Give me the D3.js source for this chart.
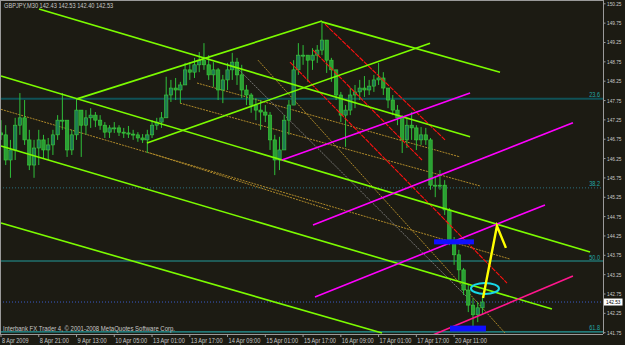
<!DOCTYPE html>
<html><head><meta charset="utf-8">
<script src="https://cdn.jsdelivr.net/npm/d3@7"></script>
<style>html,body{margin:0;padding:0;background:#1c1b13;}svg{display:block;}</style>
</head><body>
<script>
// ---------- data ----------
const title = "GBPJPY,M30  142.43 142.53 142.40 142.53";
const copyright = "Interbank FX Trader 4, \u00a9 2001-2008 MetaQuotes Software Corp.";
const tickBars = [0,32,64,96,128,160,192,224,256,288,320,352,384];
const tickLabels = ["8 Apr 2009","8 Apr 21:00","9 Apr 13:00","10 Apr 05:00","13 Apr 01:00","13 Apr 17:00","14 Apr 09:00","15 Apr 01:00","15 Apr 17:00","16 Apr 09:00","17 Apr 01:00","17 Apr 17:00","20 Apr 11:00"];
const priceTicks = [141.75,142.25,142.75,143.25,143.75,144.25,144.75,145.25,145.75,146.25,146.75,147.25,147.75,148.25,148.75,149.25,149.75,150.25];
const barsPerEntry = 4;
const firstOpen = 146.90;
const highs = [147.23,147.10,146.72,147.29,147.93,147.75,146.98,146.72,146.98,146.85,146.77,146.98,147.36,147.93,147.23,146.98,147.80,147.49,147.49,147.54,147.44,147.36,147.18,147.10,147.18,147.10,147.03,147.08,146.98,146.92,146.87,146.98,147.23,147.29,147.44,148.35,148.27,148.32,148.22,148.71,148.73,148.84,148.99,149.22,148.91,148.73,148.58,148.40,148.71,148.97,148.84,148.66,148.14,147.93,147.80,147.75,147.62,147.44,146.85,146.80,147.36,147.75,148.78,149.22,149.17,148.91,149.09,149.17,149.77,149.30,148.84,148.53,147.96,147.62,148.06,148.14,148.27,148.37,148.27,148.40,148.71,148.47,148.06,147.88,147.62,147.36,147.29,147.44,147.10,147.05,147.03,146.77,145.76,145.94,145.68,144.96,144.21,143.88,143.41,142.97,142.63,142.53,142.69];
const lows = [146.72,146.07,145.74,146.20,146.85,146.59,145.94,145.74,146.07,146.25,146.20,146.33,146.72,146.98,146.28,146.33,146.72,146.28,146.85,147.03,147.05,146.98,146.77,146.77,146.90,146.82,146.77,146.77,146.72,146.67,146.64,146.38,146.77,146.98,147.03,147.29,147.70,147.75,147.67,148.14,148.27,148.32,148.47,148.53,148.27,148.09,147.75,147.67,148.01,148.27,148.14,147.80,147.62,147.42,147.23,146.98,147.18,146.46,145.81,145.94,146.46,146.85,147.62,148.40,148.66,148.22,148.53,148.71,148.91,148.45,148.22,147.75,147.18,146.54,147.36,147.54,147.75,147.83,147.88,147.96,148.14,147.88,147.54,147.36,147.10,146.38,146.51,146.72,146.46,146.59,146.59,145.43,145.24,145.43,144.78,144.00,143.49,143.10,142.71,142.27,141.91,142.01,142.20];
const closes = [146.85,146.20,146.46,147.10,147.29,146.72,146.07,146.51,146.72,146.46,146.59,146.85,147.23,147.23,146.46,146.85,147.49,147.10,147.29,147.36,147.23,147.10,146.92,147.03,147.03,146.92,146.90,146.87,146.85,146.77,146.72,146.85,147.10,147.18,147.29,147.88,148.06,148.01,148.14,148.53,148.47,148.66,148.78,148.66,148.40,148.53,148.01,148.27,148.53,148.73,148.40,148.01,147.88,147.62,147.49,147.44,147.36,146.72,146.20,146.46,147.23,147.62,148.53,148.91,148.91,148.78,148.91,149.04,149.30,148.78,148.53,147.88,147.36,147.49,147.88,147.96,148.06,148.01,148.11,148.27,148.32,148.06,147.75,147.49,147.29,146.72,147.10,147.03,146.72,146.85,146.72,145.55,145.55,145.55,144.91,144.13,143.75,143.36,142.84,142.45,142.20,142.38,142.53];
const currentPrice = 142.53;
// Fibonacci levels
const fibLabels = ["23.6","38.2","50.0","61.8"];
const fibPrices = [147.78,145.48,143.59,141.76];
// trend lines: [[bar, price],[bar, price]]
const greenLines = [
  [[32.2,150.10],[397.5,146.80]],
  [[0,148.37],[499.2,143.82]],
  [[0,146.56],[466.9,142.35]],
  [[0,144.57],[322.9,141.73]],
  [[272.0,149.77],[422.9,148.47]],
  [[64.4,147.78],[272.0,149.79]],
  [[123.7,146.64],[363.6,149.22]]
];
const magentaLines = [
  [[238.1,146.20],[397.5,147.93]],
  [[264.4,144.52],[484.7,147.16]],
  [[266.1,142.66],[461.0,145.04]]
];
const pinkLines = [
  [[366.1,141.68],[484.7,143.20]]
];
const redLines = [
  [[274.6,149.71],[376.3,146.72]],
  [[264.4,149.04],[356.8,146.20]],
  [[244.9,148.73],[428.8,143.02]]
];
const tanLines = [
  [[0,147.51],[431.4,143.64]],
  [[166.1,148.19],[389.0,146.28]],
  [[151.7,147.67],[405.9,145.53]],
  [[126.3,146.38],[278.8,144.91]],
  [[217.8,148.78],[427.1,141.73]]
];
const grayLines = [
  [[200.0,148.58],[397.5,142.58]]
];
// blue rectangles: [bar0, bar1, priceTop, priceBottom]
const blueRects = [[367.0,400.8,144.15,144.02],[380.5,411.0,141.92,141.77]];
// ellipse: [bar0, bar1, priceLow, priceHigh]
const ellipseBox = [398.3,422.0,142.74,143.02];
// yellow arrow polyline
const arrowPts = [[408.5,142.635],[420.3,144.495],[427.9,143.93]];

// ---------- drawing ----------
const W = 625, H = 345;
const plotR = 603, plotB = 334;
const svg = d3.select("body").append("svg").attr("width", W).attr("height", H);
svg.append("rect").attr("width", W).attr("height", H).attr("fill", "#1c1b13");

const x = d3.scaleLinear().domain([0, 510]).range([1, 602.8]);
const y = d3.scaleLinear().domain([141.75, 150.25]).range([332.2, 3.3]);

svg.append("clipPath").attr("id","clip").append("rect").attr("x",0).attr("y",0).attr("width",plotR).attr("height",plotB);
const g = svg.append("g").attr("clip-path","url(#clip)");

const font = "'Liberation Sans', Arial, sans-serif";
const txtCol = "#c8c8c8";

// fib horizontal lines
const fibStyles = [
  {c:"#0f5257", w:2, dash:null},
  {c:"#2a7080", w:1, dash:"1,2"},
  {c:"#239b9b", w:1, dash:null},
  {c:"#239b9b", w:1.2, dash:null}
];
fibPrices.forEach((p,i)=>{
  const s = fibStyles[i];
  g.append("line").attr("x1",0).attr("x2",plotR).attr("y1",y(p)).attr("y2",y(p))
    .attr("stroke",s.c).attr("stroke-width",s.w).attr("stroke-dasharray",s.dash);
  g.append("text").attr("x",600).attr("y",y(p)-1.5).attr("text-anchor","end")
    .attr("fill","#22a7a7").attr("font-family",font).attr("font-size",6.5).text(fibLabels[i])
    .attr("textLength",fibLabels[i].length*2.7).attr("lengthAdjust","spacingAndGlyphs");
});
// current price dotted line
g.append("line").attr("x1",0).attr("x2",plotR).attr("y1",y(currentPrice)).attr("y2",y(currentPrice))
  .attr("stroke","#3a5ccc").attr("stroke-width",1).attr("stroke-dasharray","1,2");

const lineGen = d3.line().x(d=>x(d[0])).y(d=>y(d[1]));
function drawLines(data, color, width, dash){
  g.append("g").selectAll("path").data(data).join("path")
    .attr("d", lineGen).attr("fill","none").attr("stroke",color).attr("stroke-width",width)
    .attr("stroke-dasharray",dash);
}
drawLines(tanLines, "#b08a2a", 1, "2,1");
drawLines(grayLines, "#8f8f8f", 0.8, "2,1");

// candles
const candles = highs.map((h,i)=>({bar:i*barsPerEntry, o: i===0?firstOpen:closes[i-1], h, l:lows[i], c:closes[i]}));
const cw = 3.4;
const cg = g.append("g");
cg.selectAll("line").data(candles).join("line")
  .attr("x1",d=>x(d.bar)).attr("x2",d=>x(d.bar)).attr("y1",d=>y(d.h)).attr("y2",d=>y(d.l))
  .attr("stroke","#2fbf3a").attr("stroke-width",1);
cg.selectAll("rect").data(candles).join("rect")
  .attr("x",d=>x(d.bar)-cw/2).attr("width",cw)
  .attr("y",d=>y(Math.max(d.o,d.c))).attr("height",d=>Math.max(1,Math.abs(y(d.o)-y(d.c))))
  .attr("fill",d=>d.c>=d.o?"#1d7a52":"#2a9f34").attr("stroke","#3ccf3c").attr("stroke-width",0.6);

drawLines(redLines, "#ff1010", 1.1, "5,1");
drawLines(greenLines, "#7cfc00", 1.6, null);
drawLines(magentaLines, "#ff00ff", 1.6, null);
drawLines(pinkLines, "#ff168c", 1.6, null);

// blue rectangles
g.append("g").selectAll("rect").data(blueRects).join("rect")
  .attr("x",d=>x(d[0])).attr("width",d=>x(d[1])-x(d[0]))
  .attr("y",d=>y(d[2])).attr("height",d=>y(d[3])-y(d[2])).attr("fill","#1010ff");

// ellipse
g.append("ellipse")
  .attr("cx",(x(ellipseBox[0])+x(ellipseBox[1]))/2).attr("cy",(y(ellipseBox[2])+y(ellipseBox[3]))/2)
  .attr("rx",(x(ellipseBox[1])-x(ellipseBox[0]))/2).attr("ry",(y(ellipseBox[2])-y(ellipseBox[3]))/2)
  .attr("fill","none").attr("stroke","#18d8e8").attr("stroke-width",2);

// yellow arrow
g.append("path").attr("d",lineGen(arrowPts)).attr("fill","none").attr("stroke","#ffff00").attr("stroke-width",2.4)
  .attr("stroke-linejoin","miter");

// frame
svg.append("line").attr("x1",0.5).attr("x2",0.5).attr("y1",0).attr("y2",plotB).attr("stroke","#9a9a9a");
svg.append("line").attr("x1",0).attr("x2",plotR).attr("y1",0.5).attr("y2",0.5).attr("stroke","#9a9a9a");

// y axis
const yAxis = d3.axisRight(y).tickValues(priceTicks).tickFormat(d3.format(".2f")).tickSize(2);
const ya = svg.append("g").attr("transform",`translate(${plotR+0.5},0)`).call(yAxis);
ya.select(".domain").attr("stroke","#9a9a9a").attr("d",`M0,0V${plotB}`);
ya.selectAll(".tick line").attr("stroke","#9a9a9a");
ya.selectAll(".tick text").attr("fill",txtCol).attr("font-family",font).attr("font-size",6.2).attr("x",3.5)
  .attr("textLength",14.5).attr("lengthAdjust","spacingAndGlyphs");

// current price box
const cp = svg.append("g").attr("transform",`translate(${plotR+1},${y(currentPrice)})`);
cp.append("rect").attr("x",0).attr("y",-3.5).attr("width",18.5).attr("height",7).attr("fill","#ffffff");
cp.append("text").attr("x",2).attr("y",0).attr("dy","0.35em").attr("fill","#000").attr("font-family",font)
  .attr("font-size",6.2).attr("textLength",14.5).attr("lengthAdjust","spacingAndGlyphs").text(d3.format(".2f")(currentPrice));

// x axis
svg.append("line").attr("x1",0).attr("x2",plotR).attr("y1",plotB+0.5).attr("y2",plotB+0.5).attr("stroke","#9a9a9a");
const xt = svg.append("g");
xt.selectAll("line").data(tickBars).join("line")
  .attr("x1",d=>x(d)).attr("x2",d=>x(d)).attr("y1",plotB).attr("y2",plotB+3).attr("stroke","#9a9a9a");
xt.selectAll("text").data(tickBars).join("text")
  .attr("x",d=>x(d)+1).attr("y",342.5).attr("fill",txtCol).attr("font-family",font).attr("font-size",6.3)
  .text((d,i)=>tickLabels[i])
  .attr("textLength",(d,i)=>tickLabels[i].length*2.65).attr("lengthAdjust","spacingAndGlyphs");

// title & copyright
svg.append("text").attr("x",4).attr("y",8).attr("fill",txtCol).attr("font-family",font).attr("font-size",6.5)
  .attr("textLength",title.length*2.8).attr("lengthAdjust","spacingAndGlyphs").text(title);
svg.append("text").attr("x",3).attr("y",331).attr("fill",txtCol).attr("font-family",font).attr("font-size",6.5)
  .attr("textLength",172).attr("lengthAdjust","spacingAndGlyphs").text(copyright);
</script>
</body></html>
